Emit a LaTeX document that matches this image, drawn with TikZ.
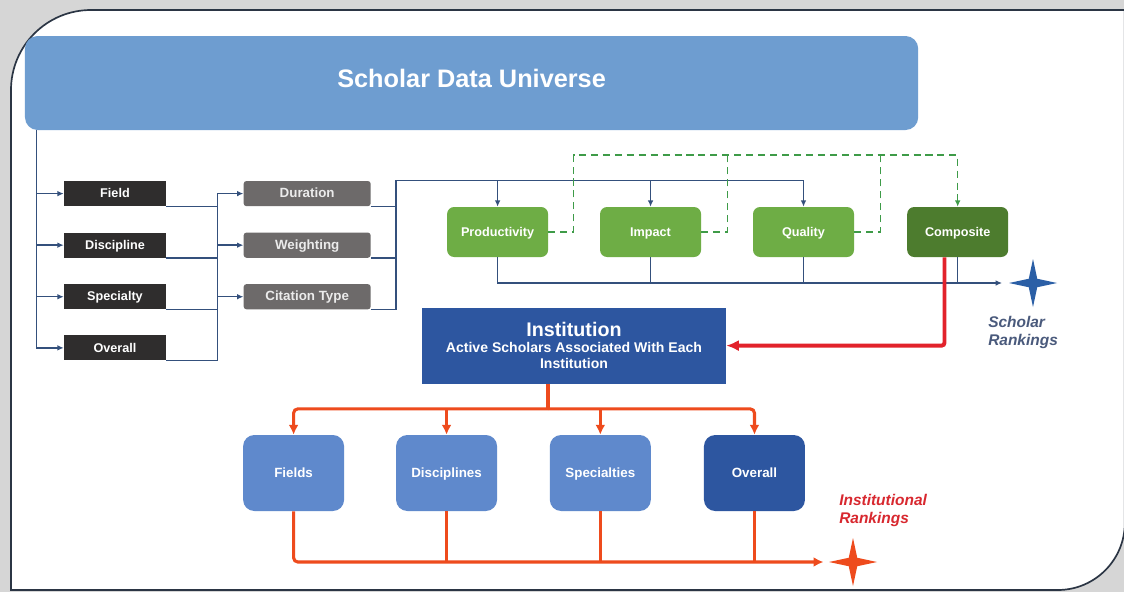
\documentclass[tikz,border=0pt]{standalone}
\usepackage{fontspec}
\setsansfont{Liberation Sans}
\usepackage{tikz}
\usetikzlibrary{calc,positioning,arrows.meta,shapes.geometric}

\definecolor{cBack}{HTML}{D6D6D6}
\definecolor{cFrame}{HTML}{2B3544}
\definecolor{cSky}{HTML}{6E9DD0}
\definecolor{cInk}{HTML}{2F2D2D}
\definecolor{cSlate}{HTML}{6D6A6A}
\definecolor{cLeaf}{HTML}{6EAD45}
\definecolor{cMoss}{HTML}{4D7C2E}
\definecolor{cNavy}{HTML}{2D56A0}
\definecolor{cSteel}{HTML}{5F89CC}
\definecolor{cLink}{HTML}{34507C}
\definecolor{cDash}{HTML}{3E9B48}
\definecolor{cRed}{HTML}{E2222B}
\definecolor{cOrange}{HTML}{EE4B1D}
\definecolor{cStar}{HTML}{2B5FA6}
\definecolor{cScholar}{HTML}{4A5A7C}
\definecolor{cInstText}{HTML}{D8282F}

\begin{document}
\begin{tikzpicture}[font=\sffamily\bfseries]
  \useasboundingbox (0,0) rectangle (28.1,-14.8);
  \tikzset{
    boxbase/.style={rectangle, draw=none, text=white, inner sep=0pt, align=center},
    oneline/.style={text height=1.5ex, text depth=0.1ex},
    skybox/.style={boxbase, oneline, fill=cSky, rounded corners=9pt,
      minimum width=22.33cm, minimum height=2.35cm,
      font=\sffamily\bfseries\fontsize{18}{21}\selectfont},
    inkbox/.style={boxbase, oneline, fill=cInk, minimum width=2.55cm, minimum height=0.63cm,
      font=\sffamily\bfseries\fontsize{9}{10}\selectfont},
    slatebox/.style={boxbase, oneline, fill=cSlate, rounded corners=2pt,
      minimum width=3.175cm, minimum height=0.63cm, text=white!92!black,
      font=\sffamily\bfseries\fontsize{9.5}{11}\selectfont},
    leafbox/.style={boxbase, oneline, fill=cLeaf, rounded corners=5pt,
      minimum width=2.525cm, minimum height=1.25cm,
      font=\sffamily\bfseries\fontsize{9}{11}\selectfont},
    instbox/.style={boxbase, fill=cNavy, minimum width=7.6cm, minimum height=1.9cm,
      font=\sffamily\bfseries\fontsize{10}{11.5}\selectfont},
    steelbox/.style={boxbase, oneline, fill=cSteel, rounded corners=8pt,
      minimum width=2.525cm, minimum height=1.9cm,
      font=\sffamily\bfseries\fontsize{9.5}{11}\selectfont},
    sparkle/.style={star, star points=4, star point ratio=4, minimum size=1.2cm,
      inner sep=0pt, draw=none},
    ranklabel/.style={align=left, anchor=north west, inner sep=0pt,
      font=\sffamily\bfseries\itshape\fontsize{11}{12.5}\selectfont},
    link/.style={draw=cLink, line width=1pt},
    linktip/.style={-{Latex[length=4.5pt,width=4pt]}},
    greenlink/.style={draw=cDash, line width=1pt, dash pattern=on 5pt off 3.5pt},
    redlink/.style={draw=cRed, line width=2.8pt, rounded corners=2pt,
      -{Latex[length=9pt,width=8pt]}},
    orangelink/.style={draw=cOrange, line width=2.2pt, rounded corners=3pt},
    orangetip/.style={-{Latex[length=7pt,width=7pt]}}
  }

  % panel
  \fill[cBack] (0,0) rectangle (28.1,-14.8);
  \filldraw[fill=white, draw=cFrame, line width=1.2pt]
    (0.275,-14.75) -- (0.275,-2.25) arc[start angle=180, end angle=90, radius=2]
    -- (28.12,-0.25) -- (28.12,-13.075) arc[start angle=0, end angle=-90, radius=1.675]
    -- cycle;

  % boxes
  \node[skybox] (SDU) at (11.79,-2.075) {Scholar Data Universe};

  \node[inkbox] (SField) at (2.875,-4.84) {Field};
  \node[inkbox, below=0.645cm of SField] (SDisc) {Discipline};
  \node[inkbox, below=0.645cm of SDisc] (SSpec) {Specialty};
  \node[inkbox, below=0.635cm of SSpec] (SOver) {Overall};

  \node[slatebox, right=1.9275cm of SField] (Dur) {Duration};
  \node[slatebox, below=0.645cm of Dur] (Wgt) {Weighting};
  \node[slatebox, below=0.645cm of Wgt] (Cit) {Citation Type};

  \node[leafbox] (Prod) at (12.44,-5.8) {Productivity};
  \node[leafbox, right=1.285cm of Prod] (Imp) {Impact};
  \node[leafbox, right=1.285cm of Imp] (Qual) {Quality};
  \node[leafbox, fill=cMoss, right=1.315cm of Qual] (Comp) {Composite};

  \node[instbox] (Inst) at (14.35,-8.64)
    {{\fontsize{14}{16}\selectfont Institution}\\Active Scholars Associated With Each\\Institution};

  \node[steelbox] (IField) at (7.34,-11.825) {Fields};
  \node[steelbox, right=1.285cm of IField] (IDisc) {Disciplines};
  \node[steelbox, right=1.305cm of IDisc] (ISpec) {Specialties};
  \node[steelbox, fill=cNavy, right=1.315cm of ISpec] (IOver) {Overall};

  \node[sparkle, fill=cStar] (SRank) at (25.825,-7.075) {};
  \node[sparkle, fill=cOrange] (IRank) at (21.325,-14.05) {};
  \node[ranklabel, text=cScholar] (SRankLab) at (24.7,-7.9) {Scholar\\Rankings};
  \node[ranklabel, text=cInstText] (IRankLab) at (20.975,-12.35) {Institutional\\Rankings};

  % scholar side
  \coordinate (T) at ($(SDU.south west)+(0.3,0)$);
  \draw[link,linktip] (T) |- (SField);
  \draw[link,linktip] (T) |- (SDisc);
  \draw[link,linktip] (T) |- (SSpec);
  \draw[link,linktip] (T) |- (SOver);
  \coordinate (B1) at ($(Dur.west)+(-0.65,0)$);
  \draw[link,linktip] (SOver.south east) -| (B1) -- (Dur);
  \draw[link] (SField.south east) -- (SField.south east -| B1);
  \draw[link] (SDisc.south east) -- (SDisc.south east -| B1);
  \draw[link] (SSpec.south east) -- (SSpec.south east -| B1);
  \draw[link,linktip] (Wgt -| B1) -- (Wgt);
  \draw[link,linktip] (Cit -| B1) -- (Cit);
  \coordinate (B2) at ($(Dur.north east)+(0.63,0)$);
  \draw[link,linktip] (Cit.south east) -| (B2) -| (Qual);
  \draw[link] (Dur.south east) -- (Dur.south east -| B2);
  \draw[link] (Wgt.south east) -- (Wgt.south east -| B2);
  \draw[link,linktip] (Prod |- B2) -- (Prod);
  \draw[link,linktip] (Imp |- B2) -- (Imp);
  \coordinate (D) at ($(Prod.east)+(0.63,1.925)$);
  \draw[greenlink,linktip] (Prod.east) -| (D) -| (Comp);
  \draw[greenlink] (Imp.east) -- ++(0.65,0) -- ++(0,1.925);
  \draw[greenlink] (Qual.east) -- ++(0.65,0) -- ++(0,1.925);
  \draw[link,linktip,shorten >=4pt] (Prod) |- (SRank.west);
  \draw[link] (Imp) -- (Imp |- SRank);
  \draw[link] (Qual) -- (Qual |- SRank);
  \draw[link] (Comp) -- (Comp |- SRank);

  % institution side
  \draw[redlink] ($(Comp.south)+(-0.33,0)$) |- (Inst);
  \coordinate (O) at ($(Inst.south)+(-0.65,-0.625)$);
  \draw[orangelink] ($(Inst.south)+(-0.65,0)$) -- (O);
  \draw[orangelink,orangetip] (O) -| (IField);
  \draw[orangelink,orangetip] (O) -| (IOver);
  \draw[orangelink,orangetip] (IDisc |- O) -- (IDisc);
  \draw[orangelink,orangetip] (ISpec |- O) -- (ISpec);
  \draw[orangelink,orangetip,shorten >=3pt] (IField) |- (IRank.west);
  \draw[orangelink] (IDisc) -- (IDisc |- IRank);
  \draw[orangelink] (ISpec) -- (ISpec |- IRank);
  \draw[orangelink] (IOver) -- (IOver |- IRank);
\end{tikzpicture}
\end{document}
